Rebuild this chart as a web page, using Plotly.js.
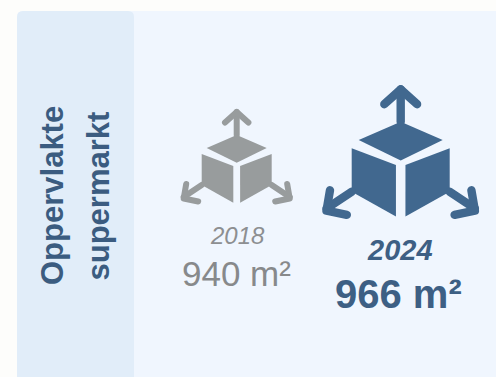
<!DOCTYPE html>
<html>
<head>
<meta charset="utf-8">
<script src="https://cdn.plot.ly/plotly-3.0.1.min.js"></script>
<style>
  html, body { margin: 0; padding: 0; background: #fdfdfb; overflow: hidden; }
  #chart { width: 496px; height: 377px; }
  .scatterlayer .js-line { stroke-linecap: round !important; stroke-linejoin: round !important; }
</style>
</head>
<body>
<div id="chart"></div>
<script>
// Supermarket floor area per survey year
const years = ["2018", "2024"];
const areas = [940, 966];
const panelTitle = ["Oppervlakte", "supermarkt"];

// Per-year appearance of the expanding-box icon and its captions
const iconCenters = [[236.7, 135], [400.7, 121.7]];
const iconScales = [1, 1.4];
const iconColors = ["#989c9d", "#41688f"];
const yearFonts = [
  { size: 24, color: "#8d8f91", family: "Liberation Sans, Arial, sans-serif", style: "italic", weight: 400 },
  { size: 29, color: "#3d5f84", family: "Liberation Sans, Arial, sans-serif", style: "italic", weight: 700 }
];
const areaFonts = [
  { size: 35, color: "#87898b", family: "Liberation Sans, Arial, sans-serif", weight: 400 },
  { size: 40, color: "#3d5f84", family: "Liberation Sans, Arial, sans-serif", weight: 700 }
];
const yearLabelX = [237.5, 400];
const areaLabelX = [236, 398.5];
const yearLabelY = [235, 250];
const areaLabelY = [273, 294];

// Icon outline in local units, origin at the top corner of the lid
const lid = [[0, 0], [30, 13], [0, 27.7], [-30, 13], [0, 0]];
const leftFace = [[-35, 19], [-3.4, 31], [-3.4, 67.7], [-35, 50], [-35, 19]];
const rightFace = leftFace.map(([x, y]) => [-x, y]);
const arrows = [
  [[0, 0], [0, -23]],
  [[-11.7, -12.5], [0, -23], [11.7, -12.5]],
  [[-35, 50], [-53, 62]],
  [[-50.5, 49], [-53, 63.5], [-38.5, 66.5]],
  [[35, 50], [53, 62]],
  [[50.5, 49], [53, 63.5], [38.5, 66.5]]
];

const traces = [];
years.forEach((year, i) => {
  const [cx, cy] = iconCenters[i];
  const s = iconScales[i];
  const place = pts => ({
    x: pts.map(p => cx + p[0] * s),
    y: pts.map(p => cy + p[1] * s)
  });
  [lid, leftFace, rightFace].forEach(face => {
    traces.push({
      ...place(face), type: "scatter", mode: "lines", fill: "toself",
      fillcolor: iconColors[i], line: { width: 0, color: iconColors[i] }, hoverinfo: "skip"
    });
  });
  arrows.forEach(stroke => {
    traces.push({
      ...place(stroke), type: "scatter", mode: "lines",
      line: { width: 6 * s, color: iconColors[i] }, hoverinfo: "skip"
    });
  });
});

const annotations = [];
const textNote = (text, x, y, font, extra) => ({
  text, x, y, xref: "x", yref: "y", showarrow: false,
  xanchor: "center", yanchor: "middle", font, ...extra
});
years.forEach((year, i) => {
  annotations.push(textNote(year, yearLabelX[i], yearLabelY[i], yearFonts[i]));
  annotations.push(textNote(areas[i] + " m²", areaLabelX[i], areaLabelY[i], areaFonts[i]));
});
const titleFont = { size: 31, color: "#3b5c80", family: "Liberation Sans, Arial, sans-serif", weight: 700 };
annotations.push(textNote(panelTitle[0], 52, 196, titleFont, { textangle: -90 }));
annotations.push(textNote(panelTitle[1], 97.5, 196, titleFont, { textangle: -90 }));

const shapes = [
  { type: "path", layer: "below", path: "M17,377 L17,17 Q17,11 23,11 L496,11 L496,377 Z",
    fillcolor: "#f0f6fe", line: { width: 0 } },
  { type: "path", layer: "below", path: "M17,377 L17,17 Q17,11 23,11 L128,11 Q134,11 134,17 L134,377 Z",
    fillcolor: "#e1edf9", line: { width: 0 } }
];

const hiddenAxis = range => ({
  range, visible: false, fixedrange: true, showgrid: false, zeroline: false
});

Plotly.newPlot("chart", traces, {
  width: 496,
  height: 377,
  margin: { l: 0, r: 0, t: 0, b: 0 },
  paper_bgcolor: "#fdfdfb",
  plot_bgcolor: "rgba(0,0,0,0)",
  showlegend: false,
  xaxis: hiddenAxis([0, 496]),
  yaxis: hiddenAxis([377, 0]),
  shapes,
  annotations
}, { displayModeBar: false, staticPlot: true });
</script>
</body>
</html>
